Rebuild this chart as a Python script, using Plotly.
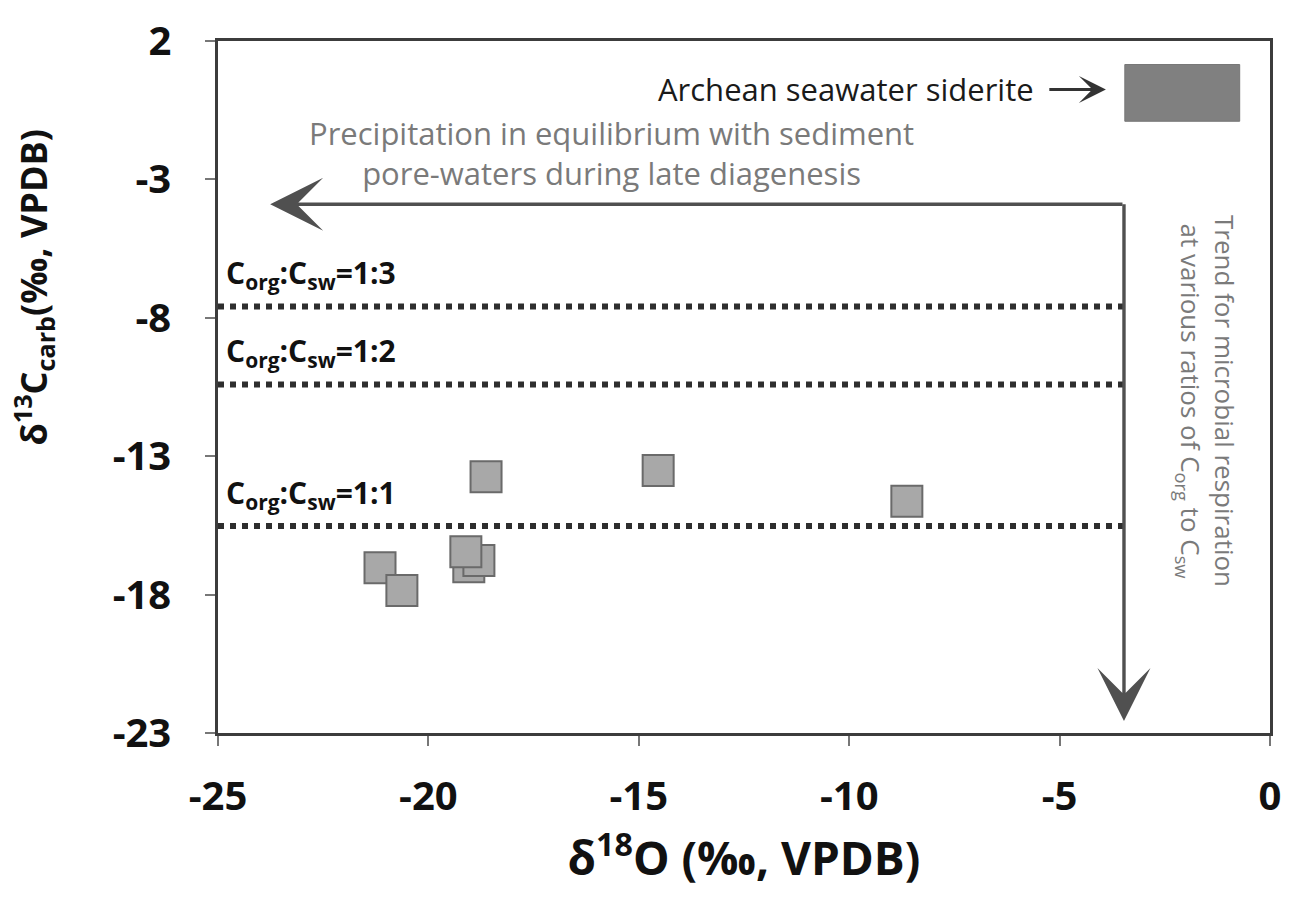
import plotly.graph_objects as go

# Siderite samples: delta18O vs delta13C (permil, VPDB)
d18o = [-21.15, -20.63, -19.04, -18.80, -19.11, -18.63, -14.54, -8.63]
d13c = [-17.03, -17.85, -16.99, -16.77, -16.45, -13.74, -13.52, -14.63]

# Corg:Csw mixing ratios and the delta13C level each one gives
ratio_labels = ["1:3", "1:2", "1:1"]
ratio_levels = [-7.59, -10.41, -15.52]

# Archean seawater siderite field
sw_x = [-3.45, -0.72]
sw_y = [-0.90, 1.15]

# Trend arrows: corner point, left-pointing tip, downward tip
corner_x, corner_y = -3.47, -3.90
left_tip_x = -23.76
down_tip_y = -22.57

x_ticks = [-25, -20, -15, -10, -5, 0]
y_ticks = [2, -3, -8, -13, -18, -23]

FONT = "Open Sans"
AXIS = "#3c3c3c"
GREY_TXT = "#7a7a7a"

fig = go.Figure()

# dotted ratio lines
for lvl in ratio_levels:
    fig.add_trace(go.Scatter(
        x=[-25, corner_x], y=[lvl, lvl], mode="lines",
        line=dict(color="#2e2e2e", width=6, dash="dot"),
        hoverinfo="skip", showlegend=False))

fig.add_trace(go.Scatter(
    x=d18o, y=d13c, mode="markers",
    marker=dict(symbol="square", size=31, color="#a8a8a8",
                line=dict(color="#6a6a6a", width=2)),
    showlegend=False))

fig.add_shape(type="rect", xref="x", yref="y",
              x0=sw_x[0], x1=sw_x[1], y0=sw_y[0], y1=sw_y[1],
              fillcolor="#808080", line=dict(color="#777777", width=1))

ann = []
# horizontal arrow (late diagenesis)
ann.append(dict(x=left_tip_x, y=corner_y, ax=corner_x, ay=corner_y,
                xref="x", yref="y", axref="x", ayref="y", text="",
                showarrow=True, arrowhead=3, arrowsize=2.6, arrowwidth=3.4,
                arrowcolor="#505050"))
# vertical arrow (microbial respiration)
ann.append(dict(x=corner_x, y=down_tip_y, ax=corner_x, ay=corner_y + 0.06,
                xref="x", yref="y", axref="x", ayref="y", text="",
                showarrow=True, arrowhead=3, arrowsize=2.6, arrowwidth=3.4,
                arrowcolor="#505050"))
# pointer to the seawater siderite box
ann.append(dict(x=-3.9, y=0.25, ax=-5.28, ay=0.25,
                xref="x", yref="y", axref="x", ayref="y", text="",
                showarrow=True, arrowhead=3, arrowsize=1.5, arrowwidth=3,
                arrowcolor="#333333"))
ann.append(dict(x=-5.55, y=0.25, xref="x", yref="y", xanchor="right",
                yanchor="middle", showarrow=False,
                text="Archean seawater siderite",
                font=dict(family=FONT, size=31, color="#1a1a1a")))
ann.append(dict(x=-15.64, y=-2.05, xref="x", yref="y", xanchor="center",
                yanchor="middle", showarrow=False,
                text="Precipitation in equilibrium with sediment<br>pore-waters during late diagenesis",
                font=dict(family=FONT, size=31, color=GREY_TXT)))
ann.append(dict(x=-1.5, y=-11.0, xref="x", yref="y", xanchor="center",
                yanchor="middle", showarrow=False, textangle=90,
                text="Trend for microbial respiration<br>at various ratios of C<sub>org</sub> to C<sub>sw</sub>",
                font=dict(family=FONT, size=26, color=GREY_TXT)))
for lab, lvl in zip(ratio_labels, ratio_levels):
    ann.append(dict(x=-24.85, y=lvl + 0.3, xref="x", yref="y",
                    xanchor="left", yanchor="bottom", showarrow=False,
                    text=f"C<sub>org</sub>:C<sub>sw</sub>={lab}",
                    font=dict(family=FONT, size=30, color="#111111",
                              weight="bold")))
# y-axis title, set higher than the plot centre
ann.append(dict(x=-0.175, y=0.645, xref="paper", yref="paper",
                xanchor="center", yanchor="middle", showarrow=False,
                textangle=-90,
                text="δ<sup>13</sup>C<sub>carb</sub>(‰, VPDB)",
                font=dict(family=FONT, size=36, color="#111111",
                          weight="bold")))

fig.update_layout(
    width=1293, height=899,
    margin=dict(l=218, r=23, t=29, b=166),
    paper_bgcolor="white", plot_bgcolor="white",
    annotations=ann,
    xaxis=dict(range=[-25, 0], tickvals=x_ticks,
               ticktext=[str(v) for v in x_ticks],
               showgrid=False, zeroline=False,
               showline=True, mirror=True, linecolor=AXIS, linewidth=2.5,
               ticks="outside", ticklen=10, tickwidth=2, tickcolor="#777777",
               ticklabelstandoff=16,
               tickfont=dict(family=FONT, size=40, color="#111111", weight="bold"),
               title=dict(text="δ<sup>18</sup>O (‰, VPDB)", standoff=14,
                          font=dict(family=FONT, size=46, color="#111111",
                                    weight="bold"))),
    yaxis=dict(range=[-23, 2], tickvals=y_ticks,
               ticktext=[str(v) for v in y_ticks],
               showgrid=False, zeroline=False,
               showline=True, mirror=True, linecolor=AXIS, linewidth=2.5,
               ticks="outside", ticklen=10, tickwidth=2, tickcolor="#777777",
               ticklabelstandoff=26,
               tickfont=dict(family=FONT, size=40, color="#111111", weight="bold")),
)

fig.write_html("out.html")
